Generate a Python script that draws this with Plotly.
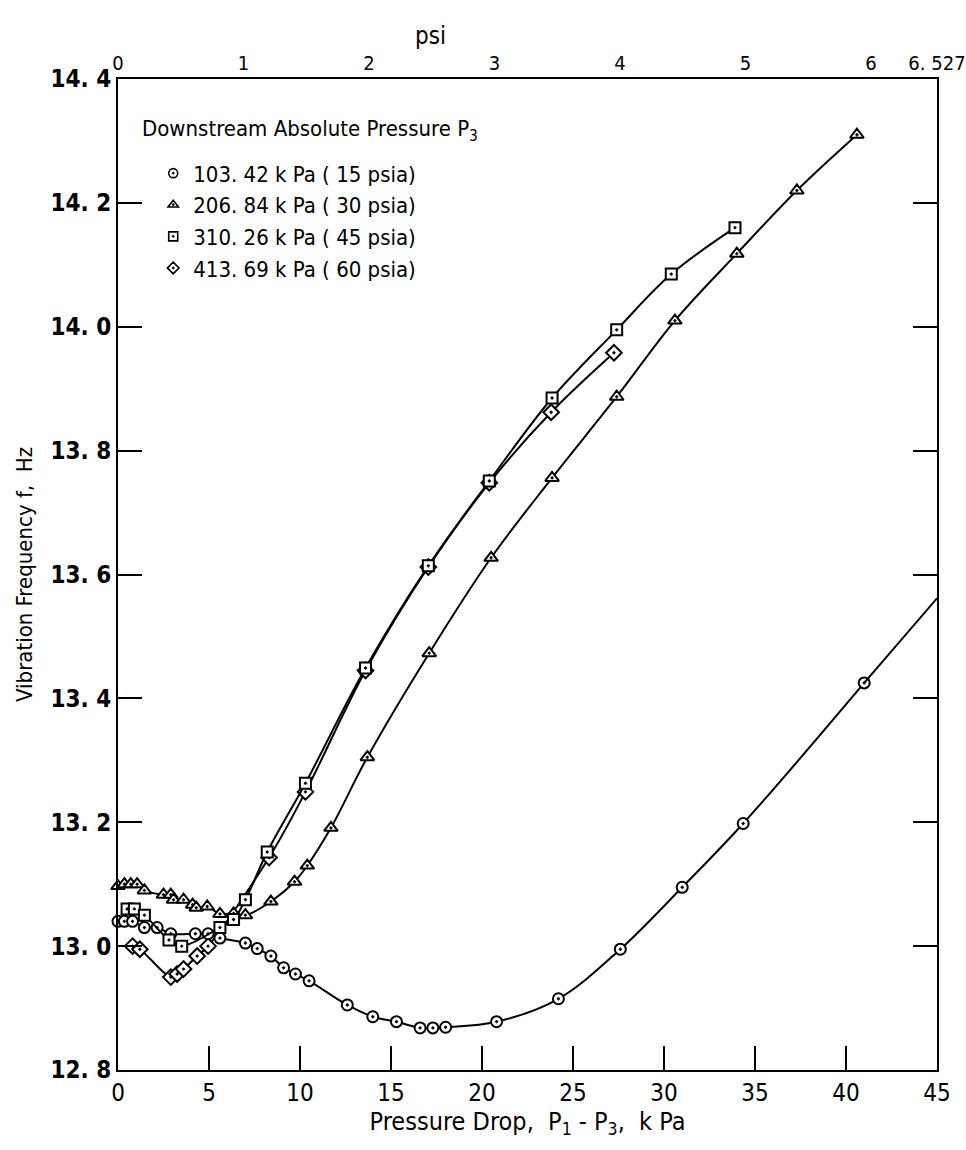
import numpy as np
import plotly.graph_objects as go

# ---------------- data (kPa, Hz) ----------------
x_15 = [0.0, 0.35, 0.8, 1.45, 2.15, 2.9, 4.25, 4.95, 5.6, 7.0, 7.65, 8.4, 9.1, 9.75, 10.5,
        12.6, 14.0, 15.3, 16.6, 17.3, 18.0, 20.8, 24.2, 27.6, 31.0, 34.35, 41.0]
y_15 = [13.04, 13.04, 13.04, 13.03, 13.03, 13.02, 13.02, 13.02, 13.013, 13.005, 12.996, 12.984,
        12.965, 12.955, 12.944, 12.905, 12.886, 12.878, 12.868, 12.868, 12.869, 12.878, 12.915,
        12.995, 13.095, 13.198, 13.425]

x_30 = [0.0, 0.35, 0.7, 1.05, 1.45, 2.5, 2.9, 3.05, 3.6, 4.1, 4.3, 4.9, 5.6, 6.35, 7.0, 8.4,
        9.7, 10.4, 11.7, 13.7, 17.1, 20.5, 23.85, 27.4, 30.6, 34.0, 37.3, 40.6]
y_30 = [13.097, 13.1, 13.1, 13.1, 13.09, 13.083, 13.083, 13.075, 13.075, 13.067, 13.062, 13.064,
        13.052, 13.053, 13.05, 13.072, 13.104, 13.13, 13.191, 13.305, 13.473, 13.627, 13.756,
        13.887, 14.01, 14.118, 14.22, 14.31]

x_45 = [0.5, 0.9, 1.45, 2.8, 3.5, 5.6, 6.35, 7.0, 8.2, 10.3, 13.6, 17.05, 20.4, 23.85, 27.4,
        30.4, 33.9]
y_45 = [13.06, 13.06, 13.05, 13.01, 13.0, 13.03, 13.043, 13.075, 13.152, 13.263, 13.449, 13.614,
        13.751, 13.885, 13.995, 14.085, 14.16]

x_60 = [0.8, 1.2, 2.9, 3.25, 3.6, 4.35, 4.95, 8.3, 10.3, 13.6, 17.05, 20.4, 23.8, 27.25]
y_60 = [13.0, 12.995, 12.95, 12.955, 12.963, 12.984, 13.0, 13.143, 13.249, 13.445, 13.612,
        13.748, 13.862, 13.958]

series_names = ["103. 42 k Pa ( 15 psia)", "206. 84 k Pa ( 30 psia)",
                "310. 26 k Pa ( 45 psia)", "413. 69 k Pa ( 60 psia)"]
series_symbols = ["circle-dot", "triangle-up-dot", "square-dot", "diamond-dot"]

y_ticks = [12.8, 13.0, 13.2, 13.4, 13.6, 13.8, 14.0, 14.2, 14.4]
y_ticktext = ["12. 8", "13. 0", "13. 2", "13. 4", "13. 6", "13. 8", "14. 0", "14. 2", "14. 4"]
x_ticks = [0, 5, 10, 15, 20, 25, 30, 35, 40, 45]
KPA_PER_PSI = 6.894757
X_MAX = 45
PSI_MAX = X_MAX / KPA_PER_PSI
psi_ticks = [0, 1, 2, 3, 4, 5, 6, 6.5265]
psi_ticktext = ["0", "1", "2", "3", "4", "5", "6", "6. 527"]

FONT = "Liberation Sans Narrow, DejaVu Sans Condensed, Arial Narrow, sans-serif"

fig = go.Figure()

data = [(x_60, y_60), (x_30, y_30), (x_15, y_15), (x_45, y_45)]
order = [3, 1, 0, 2]
sizes = {0: 11, 1: 12, 2: 11, 3: 12}
for (xs, ys), k in zip(data, order):
    fig.add_trace(go.Scatter(
        x=xs, y=ys, mode="lines+markers",
        line=dict(color="black", width=2, shape="spline", smoothing=1.0),
        marker=dict(symbol=series_symbols[k], size=sizes[k], color="white",
                    line=dict(color="black", width=2)),
        showlegend=False, cliponaxis=False, hoverinfo="skip"))

# extension of the 15 psia curve to the right edge (from last two points)
slope = (y_15[-1] - y_15[-2]) / (x_15[-1] - x_15[-2])
fig.add_trace(go.Scatter(x=[x_15[-1], X_MAX], y=[y_15[-1], y_15[-1] + slope * (X_MAX - x_15[-1])],
                         mode="lines", line=dict(color="black", width=2),
                         showlegend=False, hoverinfo="skip"))

# legend entries (marker only)
for k in range(4):
    fig.add_trace(go.Scatter(
        x=[None], y=[None], mode="markers", name=series_names[k],
        marker=dict(symbol=series_symbols[k], size=9, color="white",
                    line=dict(color="black", width=1.6))))

# top psi axis carrier
fig.add_trace(go.Scatter(x=[0, PSI_MAX], y=[None, None], xaxis="x2",
                         mode="markers", showlegend=False, hoverinfo="skip"))

fig.update_layout(
    width=966, height=1150,
    margin=dict(l=118, r=29, t=79, b=80, autoexpand=False),
    paper_bgcolor="white", plot_bgcolor="white",
    font=dict(family=FONT, color="black", size=20),
    showlegend=True,
    legend=dict(x=0.043, y=0.926, xanchor="left", yanchor="top",
                bgcolor="rgba(0,0,0,0)",
                font=dict(family=FONT, size=22, color="black"),
                itemwidth=30, tracegroupgap=0),
    xaxis=dict(range=[0, X_MAX], tickvals=x_ticks, ticks="inside", ticklen=24,
               tickwidth=2, tickcolor="black", showline=True, linewidth=2,
               linecolor="black", mirror=True, showgrid=False, zeroline=False,
               automargin=False,
               tickfont=dict(family=FONT, size=24, color="black"),
               title=dict(text="Pressure Drop,  P<sub>1</sub> - P<sub>3</sub>,  k Pa",
                          font=dict(family=FONT, size=25, color="black"), standoff=2)),
    xaxis2=dict(overlaying="x", side="top", range=[0, PSI_MAX],
                tickmode="array", tickvals=psi_ticks, ticktext=psi_ticktext, ticks="",
                showgrid=False, zeroline=False, showline=False, ticklabelstandoff=4,
                ticklabeloverflow="allow", automargin=False,
                tickfont=dict(family=FONT, size=20, color="black")),
    yaxis=dict(range=[12.8, 14.4], tickvals=y_ticks, ticktext=y_ticktext,
               ticks="inside", ticklen=24, tickwidth=2, tickcolor="black",
               showline=True, linewidth=2, linecolor="black", mirror="ticks",
               showgrid=False, zeroline=False, automargin=False,
               tickfont=dict(family=FONT, size=24, color="black", weight="bold"),
               title=dict(text="Vibration Frequency f,  Hz",
                          font=dict(family=FONT, size=22, color="black"), standoff=12)),
    annotations=[
        dict(text="psi", xref="paper", yref="paper", x=0.381, y=1.0,
             yshift=43, showarrow=False, xanchor="center", yanchor="middle",
             font=dict(family=FONT, size=24, color="black")),
        dict(text="Downstream Absolute Pressure P<sub>3</sub>", xref="paper", yref="paper",
             x=0.027, y=0.9485, showarrow=False, xanchor="left", yanchor="middle",
             font=dict(family=FONT, size=22, color="black")),
    ],
)

fig.write_html("out.html")
